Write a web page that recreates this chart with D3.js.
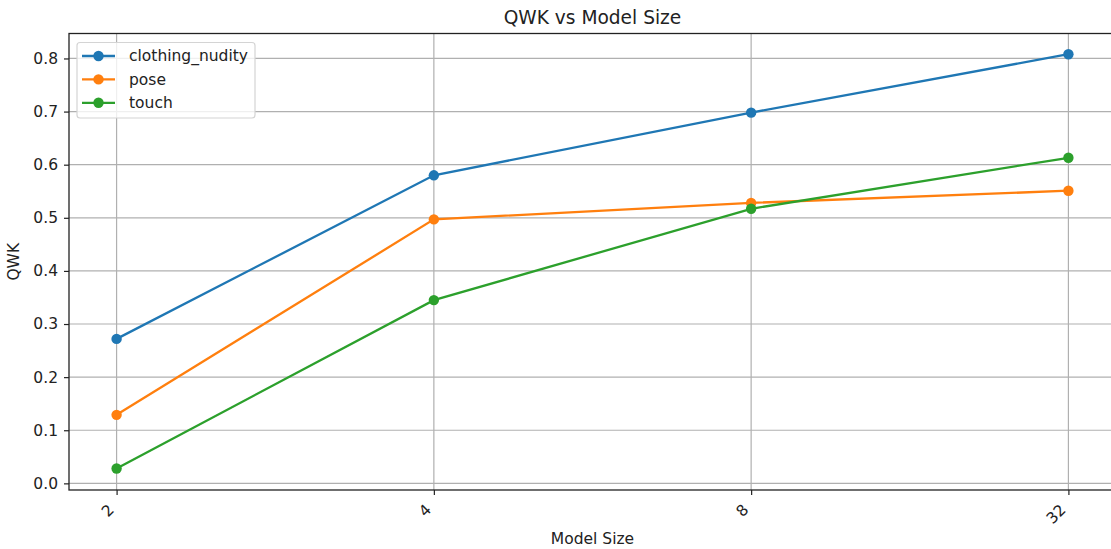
<!DOCTYPE html>
<html>
<head>
<meta charset="utf-8">
<script src="https://cdn.jsdelivr.net/npm/d3@7"></script>
<style>
  html, body { margin: 0; padding: 0; background: #fff; }
  svg { display: block; font-family: "DejaVu Sans", sans-serif; }
</style>
</head>
<body>
<svg id="chart" width="1111" height="549"></svg>
<script>
// Model sizes on the x axis (categorical)
const modelSizes = ["2", "4", "8", "32"];

// QWK per task
const clothingNudity = [0.272, 0.580, 0.698, 0.808];
const pose = [0.129, 0.497, 0.528, 0.551];
const touch = [0.028, 0.345, 0.517, 0.613];

const yTicks = [0.0, 0.1, 0.2, 0.3, 0.4, 0.5, 0.6, 0.7, 0.8];

const series = [
  { name: "clothing_nudity", values: clothingNudity, color: "#1f77b4" },
  { name: "pose", values: pose, color: "#ff7f0e" },
  { name: "touch", values: touch, color: "#2ca02c" }
];

const plot = { left: 69, right: 1116, top: 33.5, bottom: 490 };
const svg = d3.select("#chart");

const x = d3.scalePoint()
  .domain(modelSizes)
  .range([plot.left, plot.right])
  .padding(0.15);

const y = d3.scaleLinear()
  .domain([-0.0125, 0.847])
  .range([plot.bottom, plot.top]);

const tickFont = 15.5;
const gridColor = "#b0b0b0";

// grid lines
const grid = svg.append("g");
grid.selectAll("line.gx").data(modelSizes).join("line")
  .attr("x1", d => x(d)).attr("x2", d => x(d))
  .attr("y1", plot.top).attr("y2", plot.bottom)
  .attr("stroke", gridColor).attr("stroke-width", 1.2);
grid.selectAll("line.gy").data(yTicks).join("line")
  .attr("x1", plot.left).attr("x2", plot.right)
  .attr("y1", d => y(d)).attr("y2", d => y(d))
  .attr("stroke", gridColor).attr("stroke-width", 1.2);

// y axis
const yAxis = svg.append("g")
  .attr("transform", `translate(${plot.left},0)`)
  .call(d3.axisLeft(y).tickValues(yTicks).tickFormat(d3.format(".1f")).tickSize(5).tickPadding(6));
yAxis.select(".domain").remove();
yAxis.selectAll("text").attr("font-size", tickFont).attr("fill", "#222").attr("font-family", "DejaVu Sans");
yAxis.selectAll("line").attr("stroke", "#222").attr("stroke-width", 1.2);

// x axis
const xAxis = svg.append("g")
  .attr("transform", `translate(0,${plot.bottom})`)
  .call(d3.axisBottom(x).tickSize(5).tickFormat(d => d));
xAxis.select(".domain").remove();
xAxis.selectAll("line").attr("stroke", "#222").attr("stroke-width", 1.2);
xAxis.selectAll("text")
  .attr("font-size", tickFont).attr("fill", "#222").attr("font-family", "DejaVu Sans")
  .attr("text-anchor", "end")
  .attr("y", 0).attr("dy", "0.35em")
  .attr("transform", "translate(-6,17) rotate(-45)");

// frame
svg.append("rect")
  .attr("x", plot.left).attr("y", plot.top)
  .attr("width", plot.right - plot.left).attr("height", plot.bottom - plot.top)
  .attr("fill", "none").attr("stroke", "#222").attr("stroke-width", 1.3);

// lines and markers
const line = d3.line().x((d, i) => x(modelSizes[i])).y(d => y(d));
series.forEach(s => {
  svg.append("path")
    .datum(s.values)
    .attr("d", line)
    .attr("fill", "none")
    .attr("stroke", s.color)
    .attr("stroke-width", 2.3);
  svg.append("g").selectAll("circle").data(s.values).join("circle")
    .attr("cx", (d, i) => x(modelSizes[i]))
    .attr("cy", d => y(d))
    .attr("r", 5.2)
    .attr("fill", s.color);
});

// legend
const legend = svg.append("g");
legend.append("rect")
  .attr("x", 77).attr("y", 42.5).attr("width", 178).attr("height", 75.5)
  .attr("rx", 3).attr("fill", "rgba(255,255,255,0.8)")
  .attr("stroke", "#d4d4d4").attr("stroke-width", 1.2);
series.forEach((s, i) => {
  const ly = 56 + i * 23.4;
  legend.append("line")
    .attr("x1", 82).attr("x2", 115).attr("y1", ly).attr("y2", ly)
    .attr("stroke", s.color).attr("stroke-width", 2.3);
  legend.append("circle").attr("cx", 98.5).attr("cy", ly).attr("r", 5.2).attr("fill", s.color);
  legend.append("text")
    .attr("x", 129).attr("y", ly).attr("dy", "0.35em")
    .attr("font-size", tickFont).attr("fill", "#222")
    .text(s.name);
});

// title and axis labels
svg.append("text")
  .attr("x", (plot.left + plot.right) / 2).attr("y", 24)
  .attr("text-anchor", "middle").attr("font-size", 18.6).attr("fill", "#222")
  .text("QWK vs Model Size");
svg.append("text")
  .attr("x", (plot.left + plot.right) / 2).attr("y", 544)
  .attr("text-anchor", "middle").attr("font-size", tickFont).attr("fill", "#222")
  .text("Model Size");
svg.append("text")
  .attr("transform", `translate(18.5,${(plot.top + plot.bottom) / 2}) rotate(-90)`)
  .attr("text-anchor", "middle").attr("font-size", tickFont).attr("fill", "#222")
  .text("QWK");
</script>
</body>
</html>
